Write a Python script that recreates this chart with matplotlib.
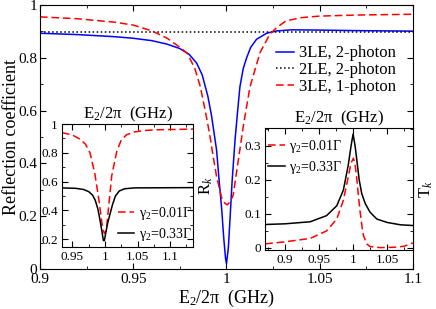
import numpy as np
import matplotlib
matplotlib.use("Agg")
import matplotlib.pyplot as plt
from matplotlib.ticker import MultipleLocator, FuncFormatter

plt.rcParams['font.family'] = ['Liberation Serif', 'DejaVu Serif']
plt.rcParams['mathtext.fontset'] = 'custom'
plt.rcParams['mathtext.rm'] = 'Liberation Serif'
plt.rcParams['mathtext.it'] = 'Liberation Serif:italic'

# main panel: reflection coefficient vs E2/2pi (GHz)
x_blue = [0.900, 0.920, 0.940, 0.950, 0.960, 0.968, 0.975, 0.980, 0.984, 0.987,
          0.990, 0.992, 0.9947, 0.996, 0.9974, 0.9985, 0.9995, 1.000, 1.001, 1.0019,
          1.003, 1.0046, 1.006, 1.0072, 1.009, 1.0108, 1.013, 1.0161, 1.0215, 1.027,
          1.035, 1.050, 1.070, 1.100]
y_blue = [0.893, 0.888, 0.880, 0.874, 0.865, 0.852, 0.835, 0.813, 0.780, 0.735,
          0.655, 0.580, 0.450, 0.340, 0.230, 0.120, 0.040, 0.020, 0.080, 0.190,
          0.330, 0.490, 0.600, 0.690, 0.760, 0.800, 0.840, 0.870, 0.893, 0.902,
          0.906, 0.905, 0.903, 0.901]

x_red = [0.900, 0.920, 0.940, 0.950, 0.960, 0.968, 0.975, 0.979, 0.983, 0.986,
         0.989, 0.991, 0.993, 0.9947, 0.9974, 0.999, 1.0004, 1.002, 1.0036, 1.0063,
         1.009, 1.0126, 1.018, 1.0233, 1.027, 1.032, 1.040, 1.050, 1.070, 1.100]
y_red = [0.955, 0.948, 0.935, 0.924, 0.902, 0.875, 0.840, 0.817, 0.760, 0.690,
         0.585, 0.510, 0.420, 0.350, 0.270, 0.250, 0.243, 0.255, 0.280, 0.410,
         0.540, 0.690, 0.820, 0.890, 0.915, 0.940, 0.952, 0.958, 0.962, 0.965]

x_dot = [0.900, 1.100]
y_dot = [0.897, 0.897]

# left inset: R_k
r_x_red = [0.934, 0.950, 0.9615, 0.970, 0.977, 0.9846, 0.991, 0.9964, 0.999, 1.002,
           1.005, 1.0103, 1.018, 1.025, 1.033, 1.045, 1.060, 1.080, 1.135]
r_y_red = [0.940, 0.924, 0.895, 0.860, 0.800, 0.650, 0.460, 0.270, 0.240, 0.260,
           0.400, 0.640, 0.810, 0.890, 0.925, 0.945, 0.955, 0.960, 0.965]
r_x_blk = [0.934, 0.955, 0.967, 0.975, 0.981, 0.985, 0.989, 0.992, 0.995, 0.9975,
           0.999, 1.001, 1.004, 1.008, 1.0115, 1.016, 1.022, 1.030, 1.045, 1.135]
r_y_blk = [0.556, 0.553, 0.545, 0.530, 0.505, 0.470, 0.410, 0.340, 0.260, 0.190,
           0.190, 0.240, 0.310, 0.380, 0.440, 0.500, 0.535, 0.550, 0.556, 0.558]

# right inset: T_k
t_x_blk = [0.871, 0.900, 0.937, 0.961, 0.976, 0.9857, 0.993, 0.997, 1.000, 1.003,
           1.0054, 1.009, 1.0127, 1.018, 1.025, 1.035, 1.050, 1.070, 1.088]
t_y_blk = [0.069, 0.071, 0.077, 0.095, 0.124, 0.170, 0.245, 0.300, 0.335, 0.300,
           0.260, 0.200, 0.160, 0.130, 0.105, 0.085, 0.075, 0.068, 0.066]
t_x_red = [0.871, 0.900, 0.937, 0.961, 0.976, 0.9857, 0.993, 0.997, 1.0005, 1.003,
           1.0054, 1.008, 1.0103, 1.013, 1.015, 1.020, 1.025, 1.040, 1.060, 1.075, 1.088]
t_y_red = [0.012, 0.018, 0.028, 0.050, 0.085, 0.140, 0.210, 0.250, 0.264, 0.245,
           0.205, 0.150, 0.107, 0.065, 0.038, 0.012, 0.004, 0.001, 0.002, 0.005, 0.015]

xlab = 'E$_2$/2π  (GHz)'
fmt = FuncFormatter(lambda v, p: '%g' % round(v, 4))


def style(ax, size, xmaj, xmin, ymaj, ymin):
    ax.xaxis.set_major_locator(MultipleLocator(xmaj))
    ax.xaxis.set_minor_locator(MultipleLocator(xmin))
    ax.yaxis.set_major_locator(MultipleLocator(ymaj))
    ax.yaxis.set_minor_locator(MultipleLocator(ymin))
    ax.xaxis.set_major_formatter(fmt)
    ax.yaxis.set_major_formatter(fmt)
    ax.tick_params(which='both', direction='in', top=True, right=True, labelsize=size)
    ax.tick_params(which='major', length=4, pad=3)
    ax.tick_params(which='minor', length=2)


fig = plt.figure(figsize=(4.36, 3.09), dpi=100)
ax = fig.add_axes([0.0917, 0.1294, 0.8555, 0.8544])
ax.plot(x_blue, y_blue, color='#0000ff', lw=1.1, label='3LE, 2-photon')
ax.plot(x_dot, y_dot, color='black', lw=1.1, ls=':', label='2LE, 2-photon')
ax.plot(x_red, y_red, color='#ff0000', lw=1.1, ls=(0, (5, 2.5)), label='3LE, 1-photon')
ax.set_xlim(0.9, 1.1)
ax.set_ylim(0, 1)
style(ax, 11, 0.05, 0.025, 0.2, 0.1)
ax.tick_params(axis='y', which='major', pad=2)
ax.set_xlabel(xlab, fontsize=13, labelpad=1)
ax.set_ylabel('Reflection coefficient', fontsize=13, labelpad=-1)
ax.legend(loc='upper left', bbox_to_anchor=(0.632, 0.847), frameon=False, fontsize=12,
          handlelength=1.1, handletextpad=0.3, labelspacing=0.05, borderpad=0,
          borderaxespad=0)

# left inset
a1 = fig.add_axes([0.1422, 0.2006, 0.3005, 0.398])
a1.plot(r_x_red, r_y_red, color='#ff0000', lw=1.1, ls=(0, (5, 2.5)), label='γ$_2$=0.01Γ')
a1.plot(r_x_blk, r_y_blk, color='black', lw=1.1, label='γ$_2$=0.33Γ')
a1.set_xlim(0.934, 1.135)
a1.set_ylim(0.145, 1.0)
style(a1, 9.5, 0.05, 0.025, 0.2, 0.1)
a1.set_title(xlab, fontsize=12, pad=3)
a1.yaxis.set_label_position('right')
a1.set_ylabel('R$_k$', fontsize=12, labelpad=3)
a1.legend(loc='lower right', bbox_to_anchor=(0.99, 0.03), frameon=False, fontsize=10,
          handlelength=1.2, handletextpad=0.3, labelspacing=0.3, borderpad=0,
          borderaxespad=0)

# right inset
a2 = fig.add_axes([0.6078, 0.191, 0.3394, 0.3948])
a2.plot(t_x_red, t_y_red, color='#ff0000', lw=1.1, ls=(0, (5, 2.5)), label='γ$_2$=0.01Γ')
a2.plot(t_x_blk, t_y_blk, color='black', lw=1.1, label='γ$_2$=0.33Γ')
a2.set_xlim(0.8706, 1.088)
a2.set_ylim(-0.006, 0.353)
style(a2, 9.5, 0.05, 0.025, 0.1, 0.05)
a2.set_title(xlab, fontsize=12, pad=3)
a2.yaxis.set_label_position('right')
a2.set_ylabel('T$_k$', fontsize=12, labelpad=3)
a2.legend(loc='upper left', bbox_to_anchor=(0.02, 0.92), frameon=False, fontsize=10,
          handlelength=1.2, handletextpad=0.3, labelspacing=0.3, borderpad=0,
          borderaxespad=0)

fig.savefig('out.png', dpi=100)
